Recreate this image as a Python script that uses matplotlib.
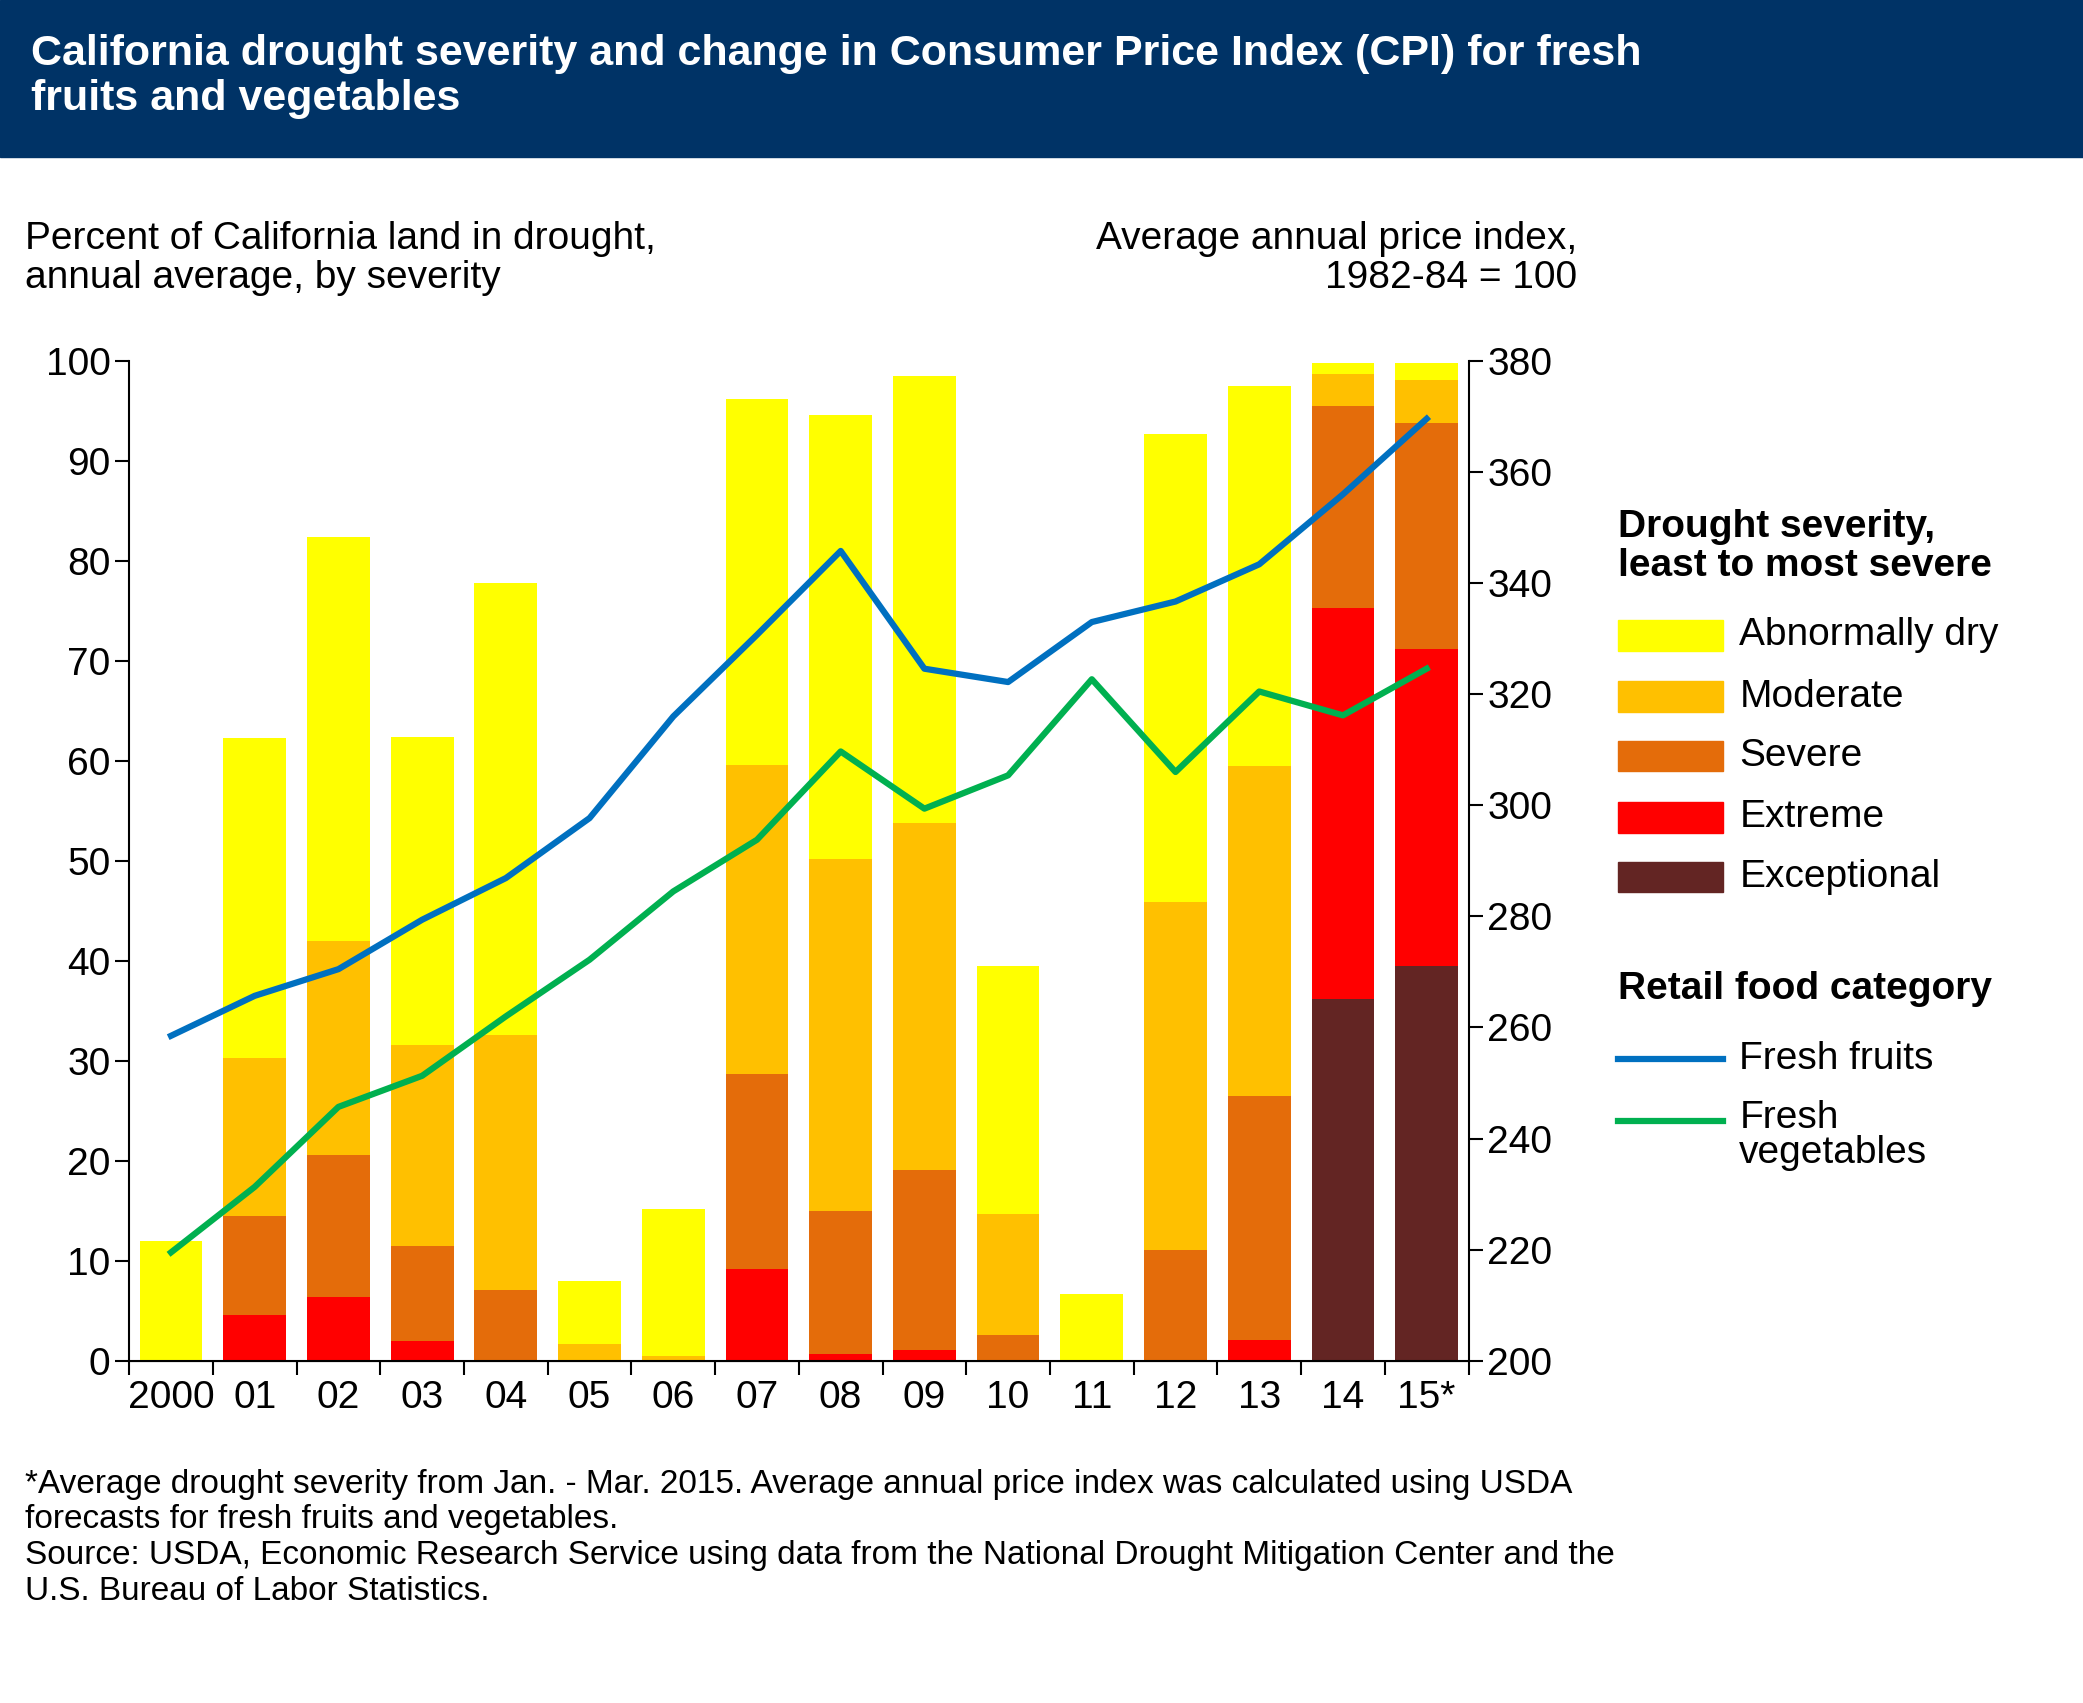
import matplotlib
matplotlib.use("Agg")
import matplotlib.pyplot as plt
import numpy as np
from matplotlib.patches import Rectangle

plt.rcParams['font.family'] = ['Liberation Sans', 'DejaVu Sans']

years = ["2000","01","02","03","04","05","06","07","08","09","10","11","12","13","14","15*"]
# cumulative tops of each severity level (percent of land)
top_abdry = [12,62.3,82.4,62.4,77.8,8,15.2,96.2,94.6,98.5,39.5,6.7,92.7,97.5,99.8,99.8]
top_moder = [0,30.3,42,31.6,32.6,1.7,0.5,59.6,50.2,53.8,14.7,0,45.9,59.5,98.7,98.1]
top_sever = [0,14.5,20.6,11.5,7.1,0,0,28.7,15,19.1,2.6,0,11.1,26.5,95.5,93.8]
top_extre = [0,4.6,6.4,2,0,0,0,9.2,0.7,1.1,0,0,0,2.1,75.3,71.2]
top_excep = [0,0,0,0,0,0,0,0,0,0,0,0,0,0,36.2,39.5]
fruits = [258.5,265.7,270.5,279.4,286.9,297.7,316,330.7,345.8,324.6,322.2,333,336.7,343.4,356,369.6]
vegs = [219.5,231.3,245.7,251.3,262,272.2,284.5,293.8,309.7,299.4,305.4,322.7,306,320.5,316.2,324.6]

cols = {"Abnormally dry":"#FFFF00","Moderate":"#FFC000","Severe":"#E46C0A",
        "Extreme":"#FF0000","Exceptional":"#632523"}
blue = "#0070C0"; green = "#00B050"

fig = plt.figure(figsize=(20.83,17.03), dpi=100)
fig.patches.append(Rectangle((0,0.908),1,0.092,transform=fig.transFigure,color="#003366",zorder=0))
fig.text(0.015,0.955,"California drought severity and change in Consumer Price Index (CPI) for fresh\nfruits and vegetables",
         color="white",fontsize=31,fontweight="bold",va="center",linespacing=1.15)

ax = fig.add_axes([0.062,0.201,0.643,0.587])
x = np.arange(len(years))
layers = [top_abdry,top_moder,top_sever,top_extre,top_excep]
for tops,(name,c) in zip(layers,cols.items()):
    ax.bar(x,tops,width=0.75,color=c,zorder=2)
ax.set_ylim(0,100); ax.set_xlim(-0.5,len(years)-0.5)
ax.set_yticks(range(0,101,10))
ax.set_xticks(x); ax.set_xticklabels(years)
ax.set_xticks(np.arange(-0.5,len(years)),minor=True)
ax.tick_params(axis='x',which='major',length=0,labelsize=28,pad=14)
ax.tick_params(axis='x',which='minor',length=10,width=1.5)
ax.tick_params(axis='y',labelsize=28,length=10,width=1.5,direction='out')
for s in ["top","right"]: ax.spines[s].set_visible(False)
ax.spines["left"].set_linewidth(1.5); ax.spines["bottom"].set_linewidth(1.5)

ax2 = ax.twinx()
ax2.plot(x,fruits,color=blue,lw=4.5,zorder=3)
ax2.plot(x,vegs,color=green,lw=4.5,zorder=3)
ax2.set_ylim(200,380); ax2.set_yticks(range(200,381,20))
ax2.tick_params(axis='y',labelsize=28,length=10,width=1.5)
for s in ["top","left"]: ax2.spines[s].set_visible(False)
ax2.spines["right"].set_linewidth(1.5)

fig.text(0.012,0.848,"Percent of California land in drought,\nannual average, by severity",fontsize=28,va="center",linespacing=1.1)
fig.text(0.757,0.848,"Average annual price index,\n1982-84 = 100",fontsize=28,va="center",ha="right",linespacing=1.1,multialignment="right")

lx = 0.777
fig.text(lx,0.679,"Drought severity,\nleast to most severe",fontsize=28,fontweight="bold",va="center",linespacing=1.1)
ys = [0.627,0.591,0.556,0.520,0.485]
for (name,c),yy in zip(cols.items(),ys):
    fig.patches.append(Rectangle((lx,yy-0.009),0.05,0.018,transform=fig.transFigure,color=c))
    fig.text(0.835,yy,name,fontsize=28,va="center")
fig.text(lx,0.419,"Retail food category",fontsize=28,fontweight="bold",va="center")
for c,yy,lab in [(blue,0.378,"Fresh fruits"),(green,0.342,"Fresh\nvegetables")]:
    fig.add_artist(plt.Line2D([lx,lx+0.05],[yy,yy],color=c,lw=4.5,transform=fig.transFigure))
    fig.text(0.835,yy,lab,fontsize=28,va="top" if "\n" in lab else "center",linespacing=1.0,
             y=yy+0.012 if "\n" in lab else yy) if False else None
fig.text(0.835,0.378,"Fresh fruits",fontsize=28,va="center")
fig.text(0.835,0.354,"Fresh\nvegetables",fontsize=28,va="top",linespacing=0.95)

fig.text(0.012,0.097,"*Average drought severity from Jan. - Mar. 2015. Average annual price index was calculated using USDA\nforecasts for fresh fruits and vegetables.\nSource: USDA, Economic Research Service using data from the National Drought Mitigation Center and the\nU.S. Bureau of Labor Statistics.",
         fontsize=24,va="center",linespacing=1.2)
fig.savefig("out.png",dpi=100)
